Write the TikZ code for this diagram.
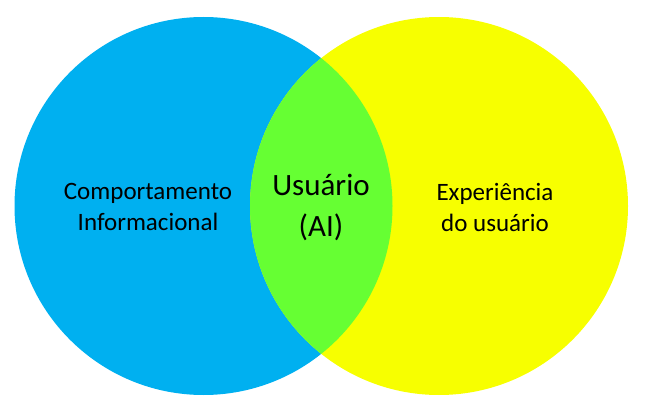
\documentclass[tikz,border=0pt]{standalone}
\usepackage{fontspec}
\setmainfont{Carlito}
\definecolor{cblue}{HTML}{00B0F0}
\definecolor{cyellow}{HTML}{F7FF00}
\definecolor{cgreen}{HTML}{66FF33}
\begin{document}
\begin{tikzpicture}[x=1pt,y=1pt,
  side/.style={align=center,font=\fontsize{25}{31}\selectfont,text=black},
  mid/.style={align=center,font=\fontsize{31}{41}\selectfont,text=black}]
\useasboundingbox (0,0) rectangle (645,413);
\coordinate (cl) at (203.5,207);
\coordinate (cr) at (439,207);
\fill[cblue] (cl) circle (189);
\fill[cyellow] (cr) circle (189);
\begin{scope}
\clip (cl) circle (189);
\fill[cgreen] (cr) circle (189);
\end{scope}
\node[side] (left) at (148,206) {Comportamento\\Informacional};
\node[side] (right) at (495,206) {Experiência\\do usuário};
\node[mid] (center) at (321,206) {Usuário\\(AI)};
\end{tikzpicture}
\end{document}
